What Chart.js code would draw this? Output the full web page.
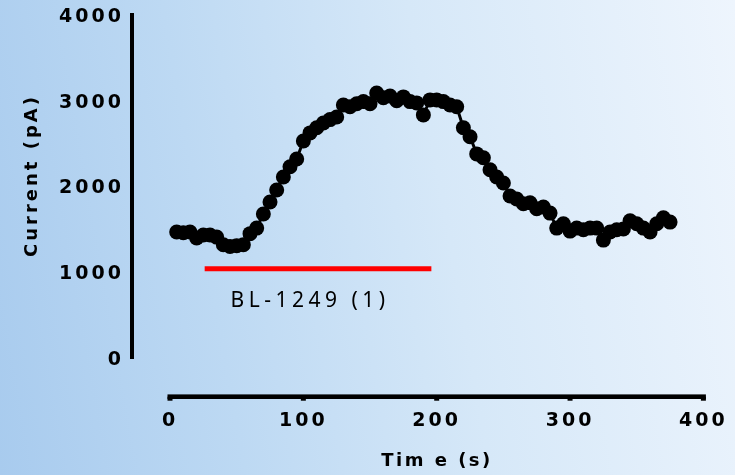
<!DOCTYPE html>
<html>
<head>
<meta charset="utf-8">
<script src="https://cdn.jsdelivr.net/npm/chart.js@4/dist/chart.umd.min.js"></script>
<style>
  html, body { margin: 0; padding: 0; }
  body {
    width: 735px; height: 475px; overflow: hidden;
    background: linear-gradient(80deg, #a8cbee 0%, #bdd9f3 30%, #d6e8f8 60%, #eef5fd 100%);
  }
  canvas { display: block; }
</style>
</head>
<body>
<canvas id="chart" width="735" height="475"></canvas>
<script>
// Recording time points (s)
const timeS = [
  5, 10, 15, 20, 25, 30, 35, 40, 45, 50, 55, 60, 65, 70, 75,
  80, 85, 90, 95, 100, 105, 110, 115, 120, 125, 130, 135, 140, 145, 150,
  155, 160, 165, 170, 175, 180, 185, 190, 195, 200, 205, 210, 215, 220, 225,
  230, 235, 240, 245, 250, 255, 260, 265, 270, 275, 280, 285, 290, 295, 300,
  305, 310, 315, 320, 325, 330, 335, 340, 345, 350, 355, 360, 365, 370, 375
];

// Whole-cell current (pA)
const currentPA = [
  1470, 1460, 1470, 1400, 1435, 1435, 1410, 1320, 1300, 1310, 1320, 1450, 1515, 1680, 1820,
  1960, 2110, 2230, 2320, 2530, 2625, 2685, 2740, 2780, 2810, 2950, 2930, 2965, 2990, 2965,
  3090, 3035, 3055, 3000, 3045, 2990, 2975, 2835, 3010, 3010, 2990, 2950, 2930, 2685, 2580,
  2380, 2335, 2195, 2110, 2040, 1890, 1855, 1800, 1810, 1740, 1760, 1690, 1515, 1565, 1480,
  1515, 1495, 1515, 1515, 1375, 1470, 1495, 1505, 1600, 1565, 1515, 1470, 1565, 1635, 1585
];

// Drug application window (s) and the level the bar is drawn at (pA)
const drugWindow = [26, 196];
const drugBarLevel = [1040, 1040];
const drugLabel = 'BL-1249 (1)';

// Axis ticks and titles
const xTicks = [0, 100, 200, 300, 400];
const yTicks = [0, 1000, 2000, 3000, 4000];
const xTitle = 'Tim e (s)';
const yTitle = 'Current (pA)';

const tickFont = { family: '"DejaVu Sans"', weight: 'bold', size: 19 };

// Axis line under the plot, axis titles and the drug label
const decor = {
  id: 'decor',
  beforeDraw(chart) {
    chart.ctx.letterSpacing = '3px';
  },
  afterDraw(chart) {
    const { ctx, scales: { x } } = chart;
    const axisY = 396.7;
    const x0 = x.getPixelForValue(xTicks[0]);
    const x1 = x.getPixelForValue(xTicks[xTicks.length - 1]);
    ctx.save();
    ctx.fillStyle = '#000';
    ctx.fillRect(x0 - 2.5, axisY - 2.3, (x1 - x0) + 5, 4.6);
    xTicks.forEach(v => {
      const p = x.getPixelForValue(v);
      ctx.fillRect(p - 2.5, axisY, 5, 4);
    });

    ctx.textAlign = 'center';
    ctx.textBaseline = 'middle';

    ctx.font = 'bold 18px "DejaVu Sans"';
    ctx.letterSpacing = '2.5px';
    ctx.fillText(xTitle, 437, 461);

    ctx.save();
    ctx.translate(32, 177);
    ctx.rotate(-Math.PI / 2);
    ctx.letterSpacing = '3px';
    ctx.fillText(yTitle, 1.5, 0);
    ctx.restore();

    ctx.font = '21px "Noto Sans"';
    ctx.letterSpacing = '4.5px';
    const mid = (x.getPixelForValue(drugWindow[0]) + x.getPixelForValue(drugWindow[1])) / 2;
    ctx.fillText(drugLabel, mid - 8, 301);
    ctx.restore();
  }
};

const plainNumber = v => String(v);

new Chart(document.getElementById('chart'), {
  type: 'line',
  data: {
    datasets: [
      {
        data: timeS.map((t, i) => ({ x: t, y: currentPA[i] })),
        borderColor: '#000',
        borderWidth: 3,
        pointRadius: 7.5,
        pointHoverRadius: 7.5,
        pointBackgroundColor: '#000',
        pointBorderWidth: 0,
        tension: 0,
        order: 1
      },
      {
        data: drugWindow.map((t, i) => ({ x: t, y: drugBarLevel[i] })),
        borderColor: '#ff0000',
        borderWidth: 5,
        borderCapStyle: 'butt',
        pointRadius: 0,
        order: 2
      }
    ]
  },
  options: {
    responsive: false,
    animation: false,
    devicePixelRatio: 1,
    events: [],
    layout: { padding: { top: 15, right: 31.6, bottom: 0, left: 0 } },
    plugins: { legend: { display: false }, tooltip: { enabled: false } },
    scales: {
      x: {
        type: 'linear',
        min: -28.5,
        max: 400,
        afterBuildTicks: s => { s.ticks = xTicks.map(v => ({ value: v })); },
        afterFit: s => { s.height = 117; s.paddingLeft = 0; s.paddingRight = 0; },
        grid: { display: false, drawTicks: false },
        border: { display: false },
        ticks: { font: tickFont, color: '#000', padding: 52, maxRotation: 0, autoSkip: false, callback: plainNumber }
      },
      y: {
        type: 'linear',
        min: 0,
        max: 4000,
        afterBuildTicks: s => { s.ticks = yTicks.map(v => ({ value: v })); },
        afterFit: s => { s.width = 132; s.paddingTop = 0; s.paddingBottom = 0; },
        grid: { display: true, drawOnChartArea: false, drawTicks: true, tickLength: 2, tickWidth: 3, tickColor: '#000' },
        border: { display: true, color: '#000', width: 4 },
        ticks: { font: tickFont, color: '#000', padding: 6, labelOffset: 2, autoSkip: false, callback: plainNumber }
      }
    }
  },
  plugins: [decor]
});
</script>
</body>
</html>
